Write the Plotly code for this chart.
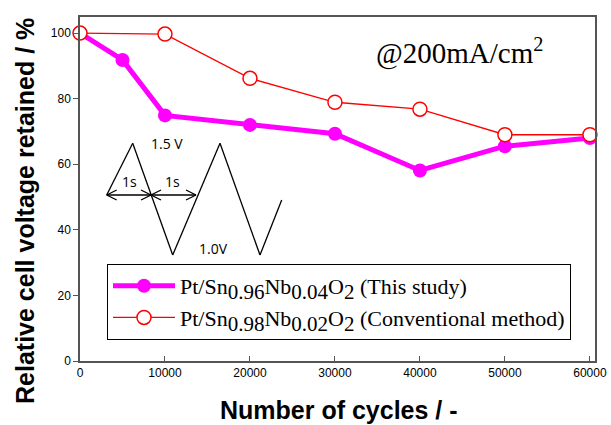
import plotly.graph_objects as go

cycles = [0, 5000, 10000, 20000, 30000, 40000, 50000, 60000]
this_study = [100, 91.8, 74.9, 72.0, 69.3, 58.1, 65.5, 68.0]
cycles_conv = [0, 10000, 20000, 30000, 40000, 50000, 60000]
conventional = [100, 99.7, 86.2, 78.9, 76.8, 69.0, 69.0]
x_ticks = [0, 10000, 20000, 30000, 40000, 50000, 60000]
y_ticks = [0, 20, 40, 60, 80, 100]

W, H = 611, 425
L, R, T, B = 80, 16, 17, 64
PW, PH = W - L - R, H - T - B

def px(x, y):
    return (x - L) / PW, (T + PH - y) / PH

def sub(s):
    return "<sub><span style=\"font-size:21px\">" + s + "</span></sub>"

fig = go.Figure()
fig.add_trace(go.Scatter(
    x=cycles, y=this_study, mode="lines+markers",
    name="Pt/Sn" + sub("0.96") + "Nb" + sub("0.04") + "O" + sub("2") + " (This study)",
    line=dict(color="#ff00ff", width=5),
    marker=dict(color="#ff00ff", size=14, symbol="circle"),
    cliponaxis=False))
fig.add_trace(go.Scatter(
    x=cycles_conv, y=conventional, mode="lines+markers",
    name="Pt/Sn" + sub("0.98") + "Nb" + sub("0.02") + "O" + sub("2") + " (Conventional method)",
    line=dict(color="#ff0000", width=1.3),
    marker=dict(color="white", size=14, symbol="circle",
                line=dict(color="#ff0000", width=1.5)),
    cliponaxis=False))

shapes = []
def seg(x0, y0, x1, y1, w=1.3):
    a, b = px(x0, y0)
    c, d = px(x1, y1)
    shapes.append(dict(type="line", xref="paper", yref="paper",
                       x0=a, y0=b, x1=c, y1=d,
                       line=dict(color="black", width=w)))

wave = [(106.7, 195), (132.7, 143.3), (172.7, 255), (220, 143.3), (260, 255), (281.7, 200)]
for (x0, y0), (x1, y1) in zip(wave[:-1], wave[1:]):
    seg(x0, y0, x1, y1)
seg(106.7, 195, 196, 195)
for tip, d in [(106.7, 1), (151, -1), (151, 1), (196, -1)]:
    seg(tip, 195, tip + 10 * d, 190)
    seg(tip, 195, tip + 10 * d, 200)

annotations = []
def txt(x, y, s, size=11, family="Liberation Sans", angle=0):
    a, b = px(x, y)
    annotations.append(dict(x=a, y=b, xref="paper", yref="paper", text=s,
                            showarrow=False, textangle=angle,
                            font=dict(size=size, family=family, color="black"),
                            xanchor="center", yanchor="middle"))
txt(129.5, 181, "1s", 14, "Open Sans")
txt(172, 181, "1s", 14, "Open Sans")
txt(167, 143, "1.5 V", 14, "Open Sans")
txt(213, 248, "1.0V", 14, "Open Sans")
txt(459, 52, "@200mA/cm<sup>2</sup>", 29, "Liberation Serif")
txt(25, 211, "<b>Relative cell voltage retained / %</b>", 25, "Liberation Sans", -90)
txt(339, 410, "<b>Number of cycles / -</b>", 25, "Liberation Sans")

fig.update_layout(
    width=W, height=H,
    margin=dict(l=L, r=R, t=T, b=B, autoexpand=False),
    paper_bgcolor="white", plot_bgcolor="white",
    showlegend=True,
    legend=dict(x=(107 - L) / PW, y=(T + PH - 264) / PH, xanchor="left", yanchor="top",
                bordercolor="black", borderwidth=1, bgcolor="white",
                font=dict(family="Liberation Serif", size=22, color="black"),
                tracegroupgap=0, itemwidth=62),
    shapes=shapes, annotations=annotations,
    xaxis=dict(range=[0, 60600], tickvals=x_ticks, ticktext=[str(v) for v in x_ticks],
               automargin=False,
               ticks="inside", ticklen=5, tickcolor="#555", showgrid=False, zeroline=False,
               showline=True, linecolor="#555", linewidth=1.5, mirror=True,
               tickfont=dict(family="Liberation Sans", size=12, color="black")),
    yaxis=dict(range=[0, 104.9], tickvals=y_ticks, automargin=False,
               ticks="outside", ticklen=5, tickcolor="#555", showgrid=False, zeroline=False,
               showline=True, linecolor="#555", linewidth=1.5, mirror=True,
               tickfont=dict(family="Liberation Sans", size=12, color="black")),
)
fig.write_html("out.html", config={"displayModeBar": False},
               post_script="document.body.style.margin='0px';")
